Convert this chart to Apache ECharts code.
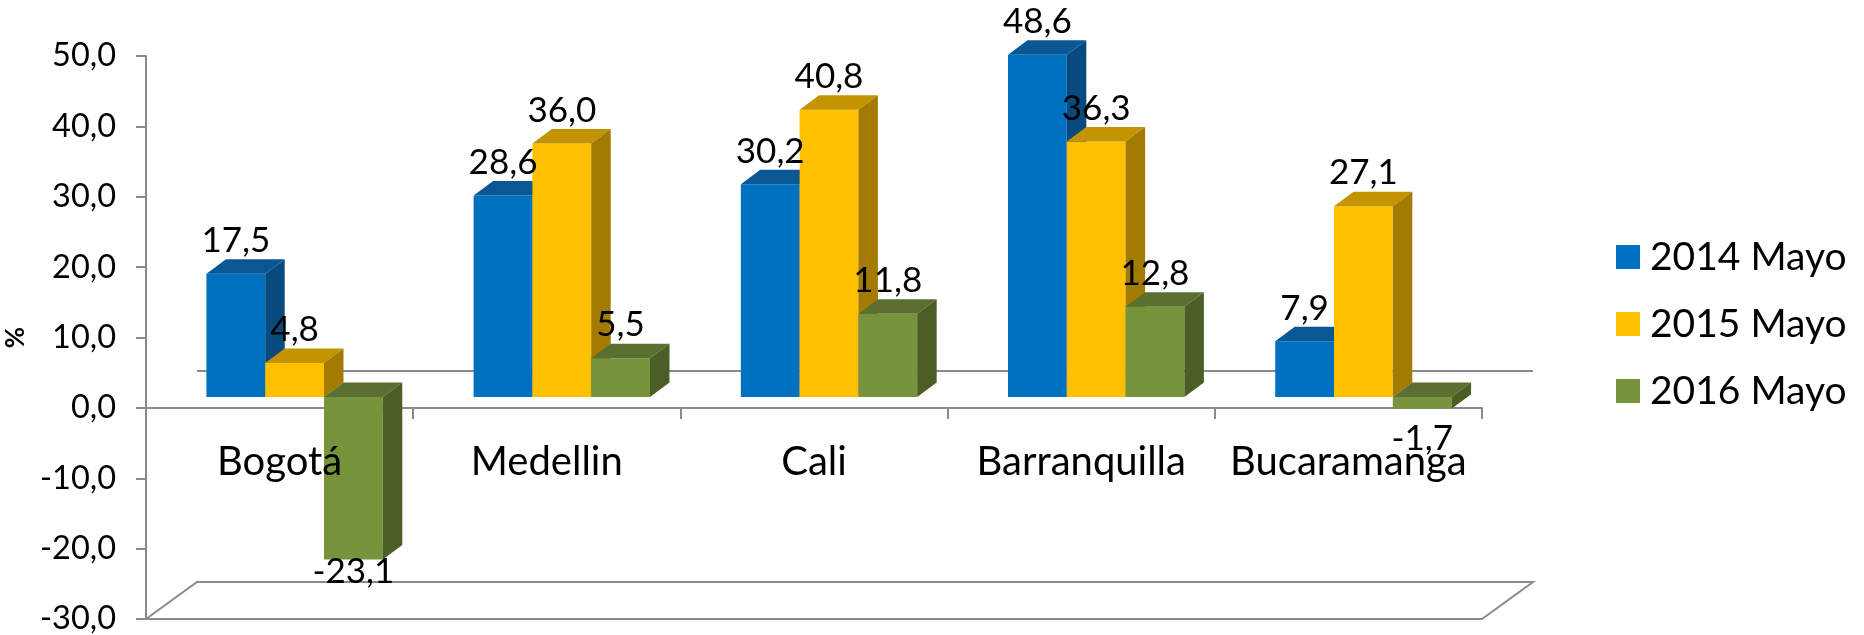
<!DOCTYPE html>
<html>
<head>
<meta charset="utf-8">
<script src="https://cdn.jsdelivr.net/npm/echarts@6/dist/echarts.min.js"></script>
<style>
html, body { margin: 0; padding: 0; background: #fff; }
#main { width: 1864px; height: 635px; }
</style>
</head>
<body>
<div id="main"></div>
<script>
// variacion mayo (%) por ciudad
const ciudades = ['Bogotá', 'Medellin', 'Cali', 'Barranquilla', 'Bucaramanga'];
const anios = ['2014 Mayo', '2015 Mayo', '2016 Mayo'];
const mayo2014 = [17.5, 28.6, 30.2, 48.6, 7.9];
const mayo2015 = [4.8, 36.0, 40.8, 36.3, 27.1];
const mayo2016 = [-23.1, 5.5, 11.8, 12.8, -1.7];
const yMin = -30, yMax = 50, yStep = 10;

// frente, techo, lado
const colores = [
    ['#0070C0', '#0A5796', '#064A7E'],
    ['#FFC000', '#C49400', '#A27B00'],
    ['#77933C', '#5B7030', '#4A5E26']
];
const gris = '#8a8a8a';
const fuente = 'Lato';

// desplazamientos del efecto 3d
const PLANO = [15, -11];   // plano de las barras respecto al eje frontal
const PROF = [19.5, -14.5]; // profundidad de cada barra
const FONDO = [51, -37];   // pared del fondo

function fmt(v) {
    return v.toFixed(1).replace('.', ',');
}

function barras(idx) {
    return function (params, api) {
        let cat = api.value(0), val = api.value(1);
        let banda = api.size([1, 0])[0];
        let w = banda * 0.22;
        let c = api.coord([cat, 0]);
        let e = api.coord([cat, val]);
        let x0 = c[0] - 1.5 * w + idx * w + PLANO[0];
        let x1 = x0 + w;
        let yc = c[1] + PLANO[1];
        let ye = e[1] + PLANO[1];
        let yTop = Math.min(yc, ye), yBot = Math.max(yc, ye);
        let dx = PROF[0], dy = PROF[1];
        let col = colores[idx];
        let yLab;
        if (val >= 0) {
            yLab = ye - 33;
        } else {
            yLab = Math.min(ye + 30, api.coord([0, yMin])[1] - 47);
        }
        return {
            type: 'group',
            children: [
                { type: 'rect', shape: { x: x0, y: yTop, width: w, height: yBot - yTop }, style: { fill: col[0] } },
                { type: 'polygon', shape: { points: [[x0, yTop], [x0 + dx, yTop + dy], [x1 + dx, yTop + dy], [x1, yTop]] }, style: { fill: col[1] } },
                { type: 'polygon', shape: { points: [[x1, yTop], [x1 + dx, yTop + dy], [x1 + dx, yBot + dy], [x1, yBot]] }, style: { fill: col[2] } },
                {
                    type: 'text', z2: 100,
                    style: {
                        x: (x0 + x1) / 2, y: yLab, text: fmt(val),
                        align: 'center', verticalAlign: 'middle',
                        font: '35px ' + fuente, fill: '#000'
                    }
                }
            ]
        };
    };
}

function marco(params, api) {
    let cs = params.coordSys;
    let y0 = api.coord([0, 0])[1];
    let yb = api.coord([0, yMin])[1];
    let xa = cs.x, xb = cs.x + cs.width;
    let st = { stroke: gris, lineWidth: 2, fill: null };
    return {
        type: 'group',
        children: [
            { type: 'polygon', shape: { points: [[xa, yb], [xa + FONDO[0], yb + FONDO[1]], [xb + FONDO[0], yb + FONDO[1]], [xb, yb]] }, style: { stroke: gris, lineWidth: 2, fill: '#fff' } },
            { type: 'line', shape: { x1: xa + FONDO[0], y1: y0 + FONDO[1], x2: xb + FONDO[0], y2: y0 + FONDO[1] }, style: st }
        ]
    };
}

let series = [{
    type: 'custom',
    name: 'marco',
    z: 1,
    silent: true,
    renderItem: marco,
    data: [[0, 0]]
}];
[mayo2014, mayo2015, mayo2016].forEach(function (vals, i) {
    series.push({
        type: 'custom',
        name: anios[i],
        z: 2,
        itemStyle: { color: colores[i][0] },
        renderItem: barras(i),
        encode: { x: 0, y: 1 },
        data: vals.map(function (v, k) { return [k, v]; })
    });
});

// la segunda rejilla termina en la linea del cero y solo lleva los nombres
let rejilla = { left: 146, right: 382, top: 56, bottom: 16, containLabel: false, outerBoundsMode: 'none' };
let rejillaNombres = { left: 146, right: 382, top: 56, bottom: 227, containLabel: false, outerBoundsMode: 'none' };

let chart = echarts.init(document.getElementById('main'));
chart.setOption({
    animation: false,
    backgroundColor: '#fff',
    grid: [rejilla, rejillaNombres],
    legend: {
        orient: 'vertical',
        left: 1611,
        top: 232,
        icon: 'rect',
        itemWidth: 24,
        itemHeight: 24,
        itemGap: 27,
        data: anios,
        textStyle: { fontFamily: fuente, fontSize: 39, color: '#000', lineHeight: 40, padding: [0, 0, 0, 5] }
    },
    xAxis: [{
        type: 'category',
        gridIndex: 0,
        data: ciudades,
        z: 0,
        axisLine: { onZero: true, lineStyle: { color: gris, width: 2 } },
        axisTick: { show: true, interval: 0, length: 11, lineStyle: { color: gris, width: 2 } },
        axisLabel: { show: false },
        splitLine: { show: false }
    }, {
        type: 'category',
        gridIndex: 1,
        position: 'bottom',
        data: ciudades,
        z: 10,
        axisLine: { show: true, onZero: false, lineStyle: { opacity: 0 } },
        axisTick: { show: false },
        axisLabel: { show: true, interval: 0, margin: 31, fontFamily: fuente, fontSize: 40, lineHeight: 46, color: '#000' },
        splitLine: { show: false }
    }],
    yAxis: [{
        type: 'value',
        gridIndex: 0,
        min: yMin,
        max: yMax,
        interval: yStep,
        name: '%',
        nameLocation: 'middle',
        nameGap: 113,
        nameRotate: 90,
        nameTextStyle: { fontFamily: fuente, fontSize: 26, fontWeight: 'bold', color: '#000' },
        axisLine: { show: true, lineStyle: { color: gris, width: 2 } },
        axisTick: { show: true, length: 10, lineStyle: { color: gris, width: 2 } },
        axisLabel: { margin: 30, fontFamily: fuente, fontSize: 32.5, color: '#000', formatter: fmt },
        splitLine: { show: false }
    }, {
        type: 'value',
        gridIndex: 1,
        min: 0,
        max: yMax,
        axisLine: { show: false },
        axisTick: { show: false },
        axisLabel: { show: false },
        splitLine: { show: false }
    }],
    series: series
});
</script>
</body>
</html>
